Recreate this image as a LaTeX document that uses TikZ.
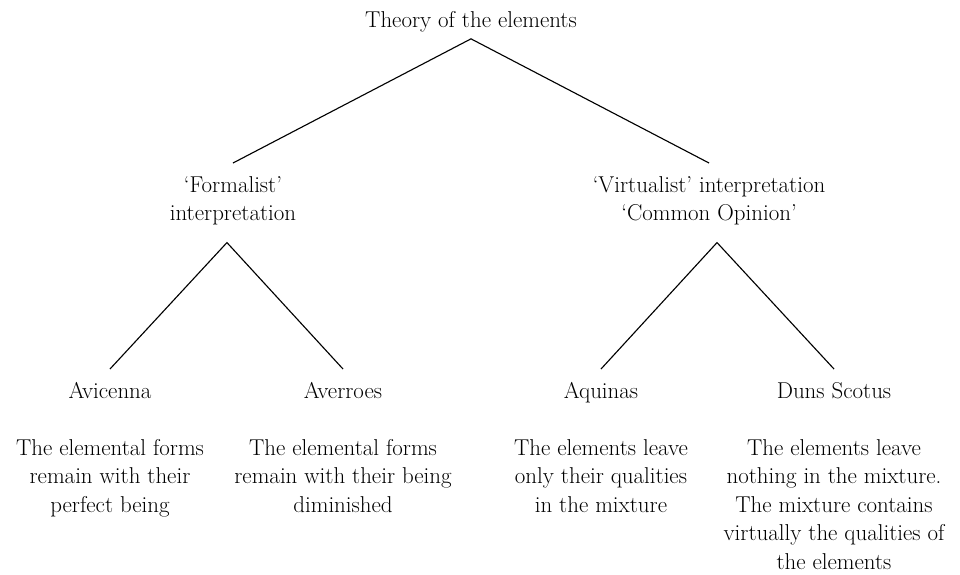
\documentclass[tikz,border=0pt]{standalone}
\usepackage{fontspec}
\usepackage{tikz}
\usetikzlibrary{positioning}

\begin{document}
\begin{tikzpicture}[
  x=0.025cm, y=-0.025cm,
  every node/.style={font=\fontsize{16.3}{20.3}\selectfont},
  head/.style={inner xsep=0pt, inner ysep=4.6pt, anchor=north},
  branch/.style={align=center, inner xsep=0pt, inner ysep=9.2pt, anchor=north},
  who/.style={inner xsep=0pt, inner ysep=9.5pt, anchor=north},
  note/.style={align=center, inner sep=0pt, anchor=north},
  link/.style={line width=0.8pt}
]
\useasboundingbox (0,0) rectangle (960,574);

\node[head]   (theory)  at (471,4.6) {Theory of the elements};
\node[branch] (formal)  at (233,163) {`Formalist'\\interpretation};
\node[branch] (virtual) at (709,163) {`Virtualist' interpretation\\`Common Opinion'};

\node[who] (avicenna) at (110,369) {Avicenna};
\node[who] (averroes) at (343,369) {Averroes};
\node[who] (aquinas)  at (601,369) {Aquinas};
\node[who] (scotus)   at (834,369) {Duns Scotus};

\node[note] (avicennaNote) at (110,439) {The elemental forms\\remain with their\\perfect being};
\node[note] (averroesNote) at (343,439) {The elemental forms\\remain with their being\\diminished};
\node[note] (aquinasNote)  at (601,439) {The elements leave\\only their qualities\\in the mixture};
\node[note] (scotusNote)   at (834,439) {The elements leave\\nothing in the mixture.\\The mixture contains\\virtually the qualities of\\the elements};

\draw[link] (formal.north) -- (theory.south) -- (virtual.north);
\draw[link] (avicenna.north) -- ([xshift=-4.3pt, yshift=-3pt]formal.south) -- (averroes.north);
\draw[link] (aquinas.north) -- ([xshift=5.7pt, yshift=-3pt]virtual.south) -- (scotus.north);

\end{tikzpicture}
\end{document}
